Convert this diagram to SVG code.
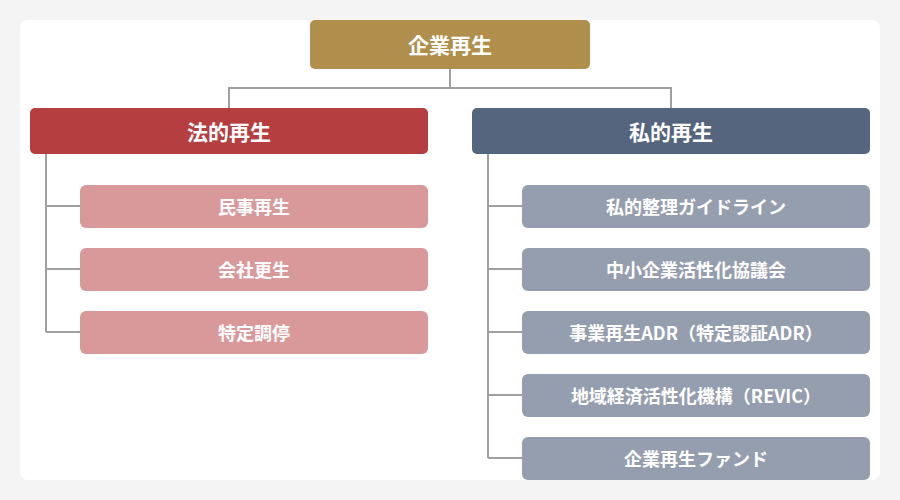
<svg xmlns="http://www.w3.org/2000/svg" width="900" height="500" viewBox="0 0 900 500">
<style>
text{font-family:"Noto Sans CJK JP","Noto Sans",sans-serif;fill:#fff;text-anchor:middle;dominant-baseline:central}
.l{font-size:21px;font-weight:bold}
.s{font-size:18px;font-weight:bold}
.c{fill:none;stroke:#a0a0a0;stroke-width:2}
</style>
<rect width="900" height="500" fill="#f4f4f4"/>
<rect x="20" y="20" width="860" height="460" rx="8" fill="#fff"/>
<g id="connectors" class="c">
<path d="M450 69V88M229 108V88H671V108"/>
<path d="M46 154V332M46 206H80M46 269H80M46 332H80"/>
<path d="M488 154V458M488 206H522M488 269H522M488 332H522M488 395H522M488 458H522"/>
</g>
<g id="root"><rect x="310" y="20" width="280" height="49" rx="5" fill="#b08f4d"/><text x="450" y="44" class="l">企業再生</text></g>
<g id="legal"><rect x="30" y="108" width="398" height="46" rx="5" fill="#b53e40"/><text x="229" y="131" class="l">法的再生</text></g>
<g id="private"><rect x="472" y="108" width="398" height="46" rx="5" fill="#55657d"/><text x="671" y="131" class="l">私的再生</text></g>
<g fill="#d9999b">
<g id="l1"><rect x="80" y="185" width="348" height="43" rx="6"/><text x="254" y="206" class="s">民事再生</text></g>
<g id="l2"><rect x="80" y="248" width="348" height="43" rx="6"/><text x="254" y="269" class="s">会社更生</text></g>
<g id="l3"><rect x="80" y="311" width="348" height="43" rx="6"/><text x="254" y="332" class="s">特定調停</text></g>
</g>
<g fill="#959eae">
<g id="r1"><rect x="522" y="185" width="348" height="43" rx="6"/><text x="696" y="206" class="s">私的整理ガイドライン</text></g>
<g id="r2"><rect x="522" y="248" width="348" height="43" rx="6"/><text x="696" y="269" class="s">中小企業活性化協議会</text></g>
<g id="r3"><rect x="522" y="311" width="348" height="43" rx="6"/><text x="696" y="332" class="s">事業再生ADR（特定認証ADR）</text></g>
<g id="r4"><rect x="522" y="374" width="348" height="43" rx="6"/><text x="696" y="395" class="s">地域経済活性化機構（REVIC）</text></g>
<g id="r5"><rect x="522" y="437" width="348" height="43" rx="6"/><text x="696" y="458" class="s">企業再生ファンド</text></g>
</g>
</svg>
